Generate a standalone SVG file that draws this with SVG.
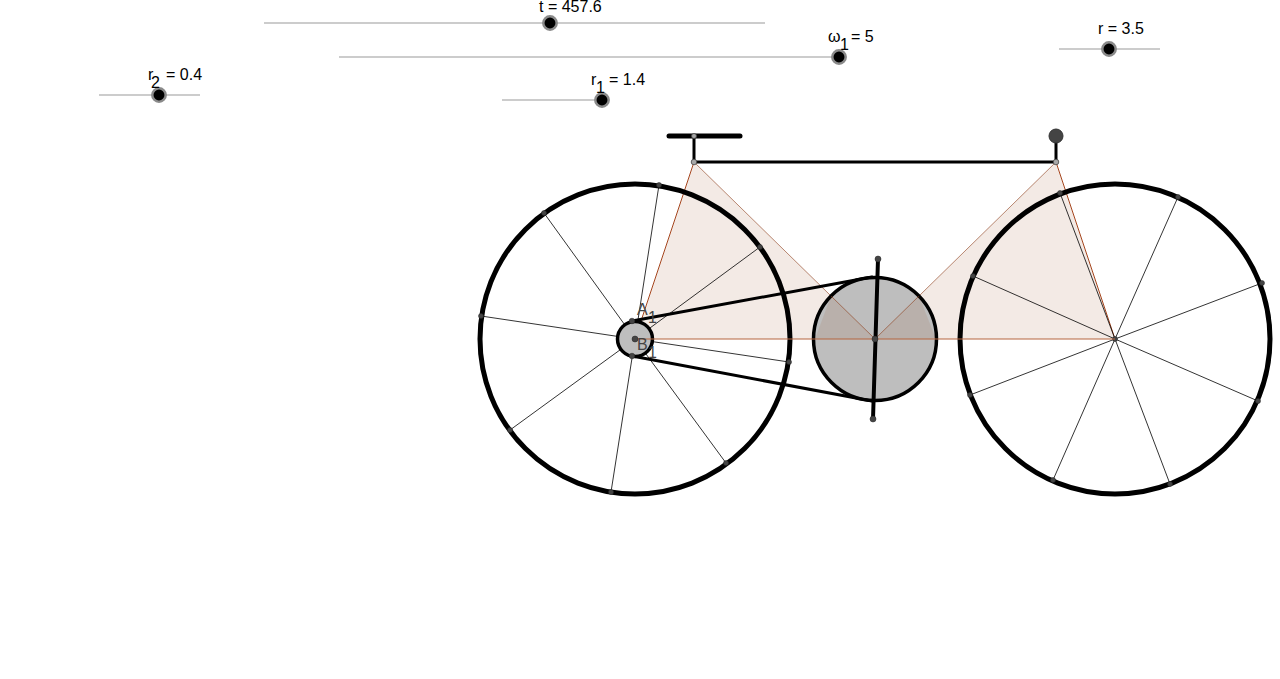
<svg xmlns="http://www.w3.org/2000/svg" width="1280" height="679" viewBox="0 0 1280 679">
<style>
.lbl{font-family:"Liberation Sans",Arial,sans-serif;font-size:16px;fill:#000}
.glbl{font-family:"Liberation Sans",Arial,sans-serif;font-size:16px;fill:#444}
.track{stroke:#999;stroke-width:1;fill:none}
.knobo{fill:#000;stroke:#8a8a8a;stroke-width:2.5}
.spoke{stroke:#000;stroke-width:.8;fill:none}
.wheel{fill:none;stroke:#000;stroke-width:5}
.pt{fill:#444;stroke:#222;stroke-width:.5}
.jt{fill:#a8a8a8;stroke:#444;stroke-width:.8}
.tri{fill:#a0522d;fill-opacity:.12;stroke:none}
.edge{stroke:#a5461e;stroke-width:1;fill:none}
.edged{stroke:#8b3a17;stroke-width:.6;fill:none}
.gear{fill:#bebebe;stroke:#000;stroke-width:3.5}
.frame{stroke:#000;stroke-width:3;fill:none;stroke-linecap:round}
</style>
<g id="slider-t"><line class="track" x1="264" y1="23" x2="765" y2="23"/><circle class="knobo" cx="550" cy="23" r="6.7"/><text class="lbl" x="539" y="12">t = 457.6</text></g>
<g id="slider-omega"><line class="track" x1="339" y1="57" x2="840" y2="57"/><circle class="knobo" cx="839" cy="57" r="6.7"/><text class="lbl" x="828" y="42">ω</text><text class="lbl" x="840" y="50">1</text><text class="lbl" x="851" y="42">= 5</text></g>
<g id="slider-r"><line class="track" x1="1059" y1="49" x2="1160" y2="49"/><circle class="knobo" cx="1109" cy="49" r="6.7"/><text class="lbl" x="1098" y="34">r = 3.5</text></g>
<g id="slider-r2"><line class="track" x1="99" y1="95" x2="200" y2="95"/><circle class="knobo" cx="159" cy="95" r="6.7"/><text class="lbl" x="148" y="80">r</text><text class="lbl" x="151" y="88">2</text><text class="lbl" x="166" y="80">= 0.4</text></g>
<g id="slider-r1"><line class="track" x1="502" y1="100" x2="603" y2="100"/><circle class="knobo" cx="602" cy="100" r="6.7"/><text class="lbl" x="591" y="85">r</text><text class="lbl" x="596" y="93">1</text><text class="lbl" x="609" y="85">= 1.4</text></g>
<g id="left-triangle"><polygon class="tri" points="635,339 694,162 875,339"/><line class="edge" x1="635" y1="339" x2="694" y2="162"/><line class="edged" x1="694" y1="162" x2="875" y2="339"/></g>
<g id="right-triangle"><polygon class="tri" points="875,339 1056,162 1115,339"/><line class="edged" x1="875" y1="339" x2="1056" y2="162"/><line class="edge" x1="1056" y1="162" x2="1115" y2="339"/></g>
<g id="left-wheel">
<g class="spokes"><path class="spoke" d="M635 339L659 185M635 339L760 247M635 339L789 362M635 339L726 463M635 339L611 492M635 339L510 430M635 339L481 316M635 339L544 213"/></g>
<circle class="wheel" cx="635" cy="339" r="155"/>
<circle class="pt" cx="659" cy="185" r="2.5"/><circle class="pt" cx="760" cy="247" r="2.5"/><circle class="pt" cx="789" cy="362" r="2.5"/><circle class="pt" cx="726" cy="463" r="2.5"/><circle class="pt" cx="611" cy="492" r="2.5"/><circle class="pt" cx="510" cy="430" r="2.5"/><circle class="pt" cx="481" cy="316" r="2.5"/><circle class="pt" cx="544" cy="213" r="2.5"/>
</g>
<g id="right-wheel">
<path class="spoke" d="M1115 339L1178 197M1115 339L1262 283M1115 339L1258 401M1115 339L1170 484M1115 339L1053 480M1115 339L970 395M1115 339L973 276M1115 339L1060 193"/>
<circle class="wheel" cx="1115" cy="339" r="155"/>
<circle class="pt" cx="1178" cy="197" r="2.5"/><circle class="pt" cx="1262" cy="283" r="2.5"/><circle class="pt" cx="1258" cy="401" r="2.5"/><circle class="pt" cx="1170" cy="484" r="2.5"/><circle class="pt" cx="1053" cy="480" r="2.5"/><circle class="pt" cx="970" cy="395" r="2.5"/><circle class="pt" cx="973" cy="276" r="2.5"/><circle class="pt" cx="1060" cy="193" r="2.5"/><circle class="pt" cx="1115" cy="339" r="2.5"/>
</g>
<g id="chainring"><circle class="gear" cx="875" cy="339" r="61.5"/>
<polygon fill="#a0522d" fill-opacity=".12" points="875,339 831,296 815,339"/><polygon fill="#a0522d" fill-opacity=".12" points="875,339 919,296 936,339"/>
<line class="edged" x1="831" y1="296" x2="875" y2="339"/><line class="edged" x1="919" y1="296" x2="875" y2="339"/></g>
<g id="sprocket"><circle class="gear" cx="635" cy="339" r="17.5"/></g>
<g id="base-line"><line x1="635" y1="339" x2="1115" y2="339" stroke="#b5653f" stroke-width="1.2"/></g>
<g id="connectors">
<line class="frame" x1="632" y1="321" x2="872" y2="277"/>
<line class="frame" x1="632" y1="356" x2="872" y2="401"/>
<line x1="878" y1="259" x2="873" y2="419" stroke="#000" stroke-width="4"/>
<line x1="669" y1="136" x2="740" y2="136" stroke="#000" stroke-width="5" stroke-linecap="round"/>
<line x1="694" y1="136" x2="694" y2="162" stroke="#000" stroke-width="3"/>
<line x1="694" y1="162" x2="1056" y2="162" stroke="#000" stroke-width="3"/>
<line x1="1056" y1="136" x2="1056" y2="162" stroke="#000" stroke-width="3"/>
</g>
<g id="points">
<circle class="jt" cx="694" cy="136" r="2.5"/><circle class="jt" cx="694" cy="162" r="2.8"/><circle class="jt" cx="1056" cy="162" r="2.8"/>
<circle cx="1056" cy="136" r="7" fill="#444" stroke="#333"/>
<circle class="pt" cx="878" cy="259" r="3"/><circle class="pt" cx="873" cy="419" r="3"/><circle class="pt" cx="875" cy="339" r="3"/>
<circle class="pt" cx="632" cy="321" r="2.8"/><circle class="pt" cx="632" cy="356" r="2.8"/><circle class="pt" cx="635" cy="339" r="3"/>
</g>
<g id="point-labels">
<text class="glbl" x="637" y="315">A</text><text class="glbl" x="648" y="323">1</text>
<text class="glbl" x="637" y="350">B</text><text class="glbl" x="648" y="358">1</text>
</g>
</svg>
